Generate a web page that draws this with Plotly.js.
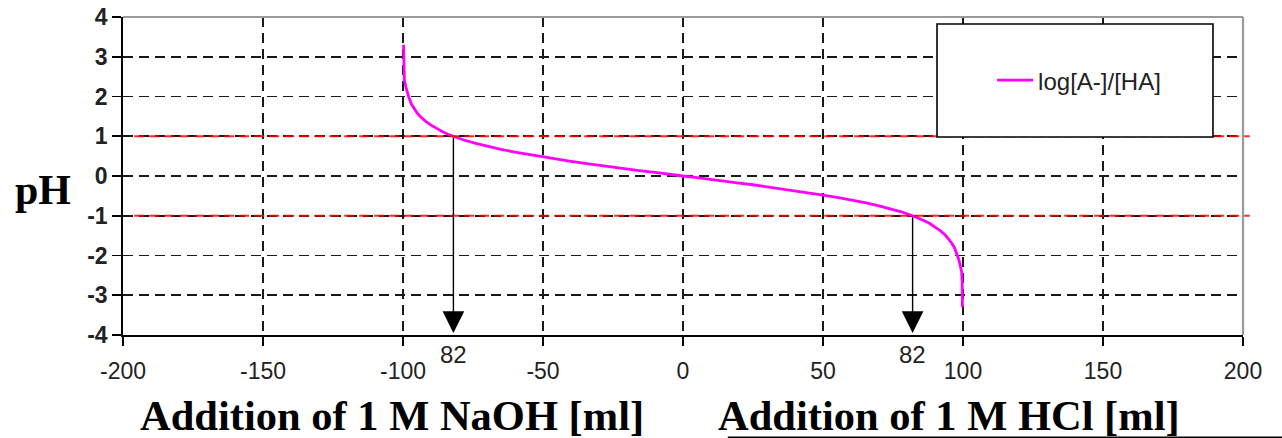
<!DOCTYPE html>
<html>
<head>
<meta charset="utf-8">
<script src="https://cdn.plot.ly/plotly-3.0.1.min.js"></script>
<style>
  html, body { margin: 0; padding: 0; background: #fff; }
  #chart { width: 1282px; height: 438px; }
</style>
</head>
<body>
<div id="chart"></div>
<script>
// Added volume (ml): negative = 1 M NaOH, positive = 1 M HCl
const addition = [
  -99.8, -99.7, -99.5, -99, -98.5, -98, -97, -96, -95, -94, -92, -90, -88, -86, -84, -82,
  -78, -74, -70, -65, -60, -55, -50, -45, -40, -35, -30, -25, -20, -15, -10, -5, 0,
  5, 10, 15, 20, 25, 30, 35, 40, 45, 50, 55, 60, 65, 70, 74, 78,
  82, 84, 86, 88, 90, 92, 94, 95, 96, 97, 98, 98.5, 99, 99.5, 99.7, 99.8
];
// log[A-]/[HA]
const logRatio = [
  3.3, 2.65, 2.4, 2.25, 2.1, 2.0, 1.81, 1.69, 1.59, 1.51, 1.38, 1.28, 1.19, 1.12, 1.05, 1.0,
  0.9, 0.82, 0.75, 0.67, 0.6, 0.54, 0.48, 0.42, 0.37, 0.32, 0.27, 0.22, 0.18, 0.13, 0.09, 0.04, 0,
  -0.04, -0.09, -0.13, -0.18, -0.22, -0.27, -0.32, -0.37, -0.42, -0.48, -0.54, -0.6, -0.67, -0.75, -0.82, -0.9,
  -1.0, -1.05, -1.12, -1.19, -1.28, -1.38, -1.51, -1.59, -1.69, -1.81, -2.0, -2.1, -2.25, -2.4, -2.65, -3.3
];
const seriesName = 'log[A-]/[HA]';
const xTicks = [-200, -150, -100, -50, 0, 50, 100, 150, 200];
const yTicks = [-4, -3, -2, -1, 0, 1, 2, 3, 4];
// Reference levels and the volumes where the curve meets them
const refLevels = [1, -1];
const markVolumes = [-82, 82];
const markLevels = [1, -1];
const markLabels = ['82', '82'];
const yTitle = 'pH';
const xTitleLeft = 'Addition of 1 M NaOH [ml]';
const xTitleRight = 'Addition of 1 M HCl [ml]';

const yMin = -4, yMax = 4;

const traces = [{
  x: addition, y: logRatio, type: 'scatter', mode: 'lines', name: seriesName,
  line: { color: '#ff00ff', width: 2.8 }, showlegend: true
}];

const shapes = [];
refLevels.forEach(v => shapes.push({
  type: 'line', xref: 'paper', yref: 'y', x0: 0.01, x1: 1.006, y0: v, y1: v,
  line: { color: 'rgba(255,0,0,0.85)', width: 2, dash: '10px,5px' }, layer: 'above'
}));
// gray top and right frame
shapes.push({ type: 'line', xref: 'paper', yref: 'paper', x0: 0, x1: 1, y0: 1, y1: 1,
  line: { color: '#9a9a9a', width: 2.2 }, layer: 'above' });
shapes.push({ type: 'line', xref: 'paper', yref: 'paper', x0: 1, x1: 1, y0: 0, y1: 1,
  line: { color: '#9a9a9a', width: 2.2 }, layer: 'above' });
// legend box
shapes.push({ type: 'rect', xref: 'paper', yref: 'paper', x0: 0.7268, x1: 0.9732, y0: 0.6226, y1: 0.978,
  line: { color: '#000', width: 1.6 }, fillcolor: '#fff', layer: 'above' });
// underline of right title
shapes.push({ type: 'line', xref: 'paper', yref: 'paper', x0: 0.540, x1: 1.04, y0: -0.3215, y1: -0.3215,
  line: { color: '#000', width: 1.6 } });

const annotations = [];
markVolumes.forEach((v, i) => {
  annotations.push({
    x: v, y: yMin + 0.05, xref: 'x', yref: 'y', ax: v, ay: markLevels[i], axref: 'x', ayref: 'y',
    text: '', showarrow: true, arrowhead: 2, arrowsize: 3.1, arrowwidth: 1.4, arrowcolor: '#000', standoff: 0
  });
  annotations.push({
    x: v, y: -0.062, xref: 'x', yref: 'paper', text: markLabels[i], showarrow: false,
    yanchor: 'middle', font: { family: 'Liberation Sans, Arial', size: 24, color: '#222' }
  });
});
annotations.push({ x: -0.0714, y: 0.456, xref: 'paper', yref: 'paper', text: '<b>' + yTitle + '</b>',
  showarrow: false, xanchor: 'center', yanchor: 'middle',
  font: { family: 'Liberation Serif, Times New Roman', size: 42, color: '#000' } });
annotations.push({ x: 0.240, y: -0.252, xref: 'paper', yref: 'paper', text: '<b>' + xTitleLeft + '</b>',
  showarrow: false, xanchor: 'center', yanchor: 'middle',
  font: { family: 'Liberation Serif, Times New Roman', size: 42.5, color: '#000' } });
annotations.push({ x: 0.7375, y: -0.252, xref: 'paper', yref: 'paper', text: '<b>' + xTitleRight + '</b>',
  showarrow: false, xanchor: 'center', yanchor: 'middle',
  font: { family: 'Liberation Serif, Times New Roman', size: 42.5, color: '#000' } });

const layout = {
  width: 1282, height: 438,
  margin: { l: 123, r: 39, t: 17, b: 103, pad: 0 },
  paper_bgcolor: '#fff', plot_bgcolor: '#fff',
  showlegend: true,
  legend: {
    x: 0.776, y: 0.80, xanchor: 'left', yanchor: 'middle',
    bgcolor: 'rgba(0,0,0,0)', borderwidth: 0, itemwidth: 36,
    font: { family: 'Liberation Sans, Arial', size: 24, color: '#222' }
  },
  xaxis: {
    range: [-200, 200], tickvals: xTicks, ticktext: xTicks.map(String),
    showgrid: true, gridcolor: '#1a1a1a', gridwidth: 1.7, griddash: '10px,6px',
    zeroline: false, showline: true, linecolor: '#000', linewidth: 1.8,
    ticks: 'outside', ticklen: 9, tickwidth: 1.6, tickcolor: '#000',
    ticklabelstandoff: 6,
    tickfont: { family: 'Liberation Sans, Arial', size: 23, color: '#222' },
    fixedrange: true
  },
  yaxis: {
    range: [yMin, yMax], tickvals: yTicks, ticktext: yTicks.map(String),
    showgrid: true, gridcolor: '#1a1a1a', gridwidth: 1.7, griddash: '10px,6px',
    zeroline: false, showline: true, linecolor: '#000', linewidth: 1.8,
    ticks: 'outside', ticklen: 9, tickwidth: 1.6, tickcolor: '#000',
    tickfont: { family: 'Liberation Sans, Arial', size: 23, color: '#222', weight: 'bold' },
    fixedrange: true
  },
  shapes: shapes,
  annotations: annotations
};

Plotly.newPlot('chart', traces, layout, { displayModeBar: false, staticPlot: true });
</script>
</body>
</html>
